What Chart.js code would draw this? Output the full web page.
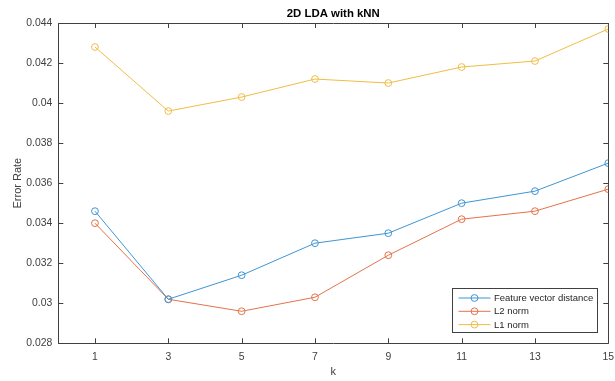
<!DOCTYPE html>
<html>
<head>
<meta charset="utf-8">
<script src="https://cdn.jsdelivr.net/npm/chart.js@4/dist/chart.umd.min.js"></script>
<style>
  html, body { margin: 0; padding: 0; background: #fff; }
  #wrap { width: 615px; height: 381px; }
</style>
</head>
<body>
<div id="wrap"><canvas id="c" width="615" height="381"></canvas></div>
<script>
// k values used for the nearest-neighbour classifier
const kValues = [1, 3, 5, 7, 9, 11, 13, 15];

// error rates per distance measure
const featureVectorDistance = [0.0346, 0.0302, 0.0314, 0.0330, 0.0335, 0.0350, 0.0356, 0.0370];
const l2Norm = [0.0340, 0.0302, 0.0296, 0.0303, 0.0324, 0.0342, 0.0346, 0.0357];
const l1Norm = [0.0428, 0.0396, 0.0403, 0.0412, 0.0410, 0.0418, 0.0421, 0.0437];

const seriesNames = ['Feature vector distance', 'L2 norm', 'L1 norm'];
const seriesColors = ['#3f95d4', '#e4724a', '#f0bd45'];

const yTickValues = [0.028, 0.030, 0.032, 0.034, 0.036, 0.038, 0.040, 0.042, 0.044];

const FONT = '"Liberation Sans", Arial, Helvetica, sans-serif';
const AXIS_COLOR = '#404040';

function toPoints(values) {
  return kValues.map((k, i) => ({ x: k, y: values[i] }));
}

function makeDataset(label, values, color) {
  return {
    label: label,
    data: toPoints(values),
    borderColor: color,
    backgroundColor: 'rgba(0,0,0,0)',
    borderWidth: 1,
    pointStyle: 'circle',
    pointRadius: 3.4,
    pointBorderWidth: 1,
    pointBackgroundColor: 'rgba(0,0,0,0)',
    pointBorderColor: color,
    tension: 0
  };
}

// axes box with inward ticks on all four sides
const boxPlugin = {
  id: 'axesBox',
  beforeDatasetsDraw(chart) {
    const { ctx, chartArea: a, scales } = chart;
    const len = 5;
    ctx.save();
    ctx.strokeStyle = AXIS_COLOR;
    ctx.lineWidth = 1;
    ctx.beginPath();
    ctx.rect(Math.round(a.left) + 0.5, Math.round(a.top) + 0.5,
             Math.round(a.right) - Math.round(a.left), Math.round(a.bottom) - Math.round(a.top));
    scales.x.ticks.forEach(t => {
      const px = Math.round(scales.x.getPixelForValue(t.value)) + 0.5;
      ctx.moveTo(px, a.bottom); ctx.lineTo(px, a.bottom - len);
      ctx.moveTo(px, a.top); ctx.lineTo(px, a.top + len);
    });
    scales.y.ticks.forEach(t => {
      const py = Math.round(scales.y.getPixelForValue(t.value)) + 0.5;
      ctx.moveTo(a.left, py); ctx.lineTo(a.left + len, py);
      ctx.moveTo(a.right, py); ctx.lineTo(a.right - len, py);
    });
    ctx.stroke();
    ctx.restore();
  }
};

// legend box drawn inside the plot, lower right
const insideLegend = {
  id: 'insideLegend',
  afterDraw(chart) {
    const { ctx, chartArea: a } = chart;
    const boxW = 145, boxH = 44;
    const x0 = Math.round(a.right - 11 - boxW) + 0.5;
    const y0 = Math.round(a.bottom - 11 - boxH) + 0.5;
    ctx.save();
    ctx.fillStyle = '#ffffff';
    ctx.fillRect(x0, y0, boxW, boxH);
    ctx.strokeStyle = AXIS_COLOR;
    ctx.lineWidth = 1;
    ctx.strokeRect(x0, y0, boxW, boxH);
    ctx.font = '9.5px ' + FONT;
    ctx.textBaseline = 'middle';
    chart.data.datasets.forEach((ds, i) => {
      const y = y0 + 9.5 + i * 13.3;
      ctx.strokeStyle = ds.borderColor;
      ctx.lineWidth = 1;
      ctx.beginPath();
      ctx.moveTo(x0 + 6, y); ctx.lineTo(x0 + 38, y);
      ctx.stroke();
      ctx.beginPath();
      ctx.arc(x0 + 22, y, 3.4, 0, Math.PI * 2);
      ctx.stroke();
      ctx.fillStyle = '#262626';
      ctx.fillText(ds.label, x0 + 41.5, y + 0.5);
    });
    ctx.restore();
  }
};

new Chart(document.getElementById('c'), {
  type: 'line',
  data: {
    datasets: [
      makeDataset(seriesNames[0], featureVectorDistance, seriesColors[0]),
      makeDataset(seriesNames[1], l2Norm, seriesColors[1]),
      makeDataset(seriesNames[2], l1Norm, seriesColors[2])
    ]
  },
  options: {
    responsive: false,
    animation: false,
    devicePixelRatio: 1,
    layout: { padding: { left: 0, right: 6.7, top: 0, bottom: 0 } },
    plugins: {
      legend: { display: false },
      tooltip: { enabled: false },
      title: {
        display: true,
        text: '2D LDA with kNN',
        fullSize: false,
        color: '#000',
        font: { family: FONT, size: 11.4, weight: 'bold', lineHeight: 1.2 },
        padding: { top: 7, bottom: 2.3 }
      }
    },
    scales: {
      x: {
        type: 'linear',
        min: 0,
        max: 15,
        afterBuildTicks(scale) { scale.ticks = kValues.map(v => ({ value: v })); },
        afterFit(scale) {
          scale.height = 37.7;
          scale.paddingLeft = 0;
          scale.paddingRight = 0;
        },
        grid: { display: false, drawTicks: false },
        border: { display: false },
        ticks: {
          padding: 8,
          color: AXIS_COLOR,
          font: { family: FONT, size: 10.4 },
          maxRotation: 0,
          autoSkip: false
        },
        title: {
          display: true,
          text: 'k',
          color: AXIS_COLOR,
          font: { family: FONT, size: 11, lineHeight: 1.2 },
          padding: { top: 0, bottom: 2 }
        }
      },
      y: {
        type: 'linear',
        min: 0.028,
        max: 0.044,
        afterBuildTicks(scale) { scale.ticks = yTickValues.map(v => ({ value: v })); },
        afterFit(scale) {
          scale.width = 58.3;
          scale.paddingTop = 0;
          scale.paddingBottom = 0;
        },
        grid: { display: false, drawTicks: false },
        border: { display: false },
        ticks: {
          padding: 6,
          color: AXIS_COLOR,
          font: { family: FONT, size: 10.4 },
          callback: v => String(Number(v.toFixed(3)))
        },
        title: {
          display: true,
          text: 'Error Rate',
          color: AXIS_COLOR,
          font: { family: FONT, size: 11, lineHeight: 1.2 },
          padding: { top: 11, bottom: 0 }
        }
      }
    }
  },
  plugins: [boxPlugin, insideLegend]
});
</script>
</body>
</html>
